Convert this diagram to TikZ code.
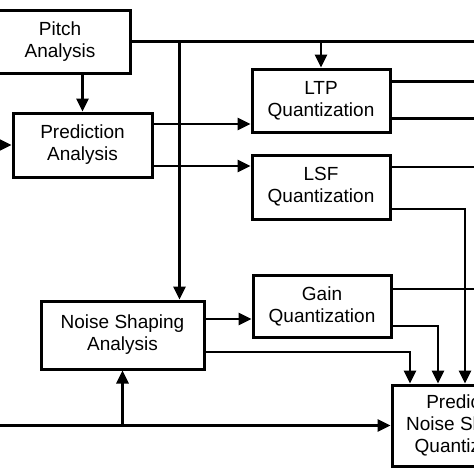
\documentclass[tikz,border=0pt]{standalone}
\usepackage{fontspec}
\setmainfont{Liberation Sans}
\usetikzlibrary{arrows.meta, positioning}

\begin{document}
\begin{tikzpicture}[
			x=1pt, y=-1pt,
			box/.style={rectangle, draw, line width=3pt, align=center, inner sep=0pt, minimum width=138pt, minimum height=63pt, font=\fontsize{19}{22}\selectfont},
			arrow/.style={-{Triangle[length=13pt, width=12pt]}, line width=2.6pt},
			wire/.style={line width=2.6pt}
			]
			\path[use as bounding box, clip] (0,0) rectangle (474,474);
			
			% Nodes
			\node (pitch) [box, minimum width=140pt] at (60,41.5) {Pitch\\Analysis};
			\node (pred) [box, minimum width=139pt, minimum height=64pt] at (82.5,145) {Prediction\\Analysis};
			\node (ltp) [box] at (321,100.5) {LTP\\Quantization};
			\node (lsf) [box, minimum height=64pt] at (321,187) {LSF\\Quantization};
			\node (nsa) [box, minimum width=163pt, minimum height=68pt] at (122.5,335) {Noise Shaping\\Analysis};
			\node (gain) [box, minimum height=62pt] at (322,306) {Gain\\Quantization};
			\node (pnsq) [box, minimum width=152pt, minimum height=81pt] at (468,425.5) {Predictive\\Noise Shaping\\Quantization};
			
			% Edges of the picture
			\coordinate (rim) at (485,0);
			\coordinate (rimw) at (-10,0);
			\coordinate (tap) at ([xshift=48pt]pitch.east);
			
			% Pitch analysis
			\draw[wire] (pitch.east) -- (pitch.east -| rim);
			\draw[arrow] (pred.north |- pitch.south) -- (pred.north);
			\draw[arrow] (ltp.north |- pitch.east) -- (ltp.north);
			\draw[arrow] (tap) -- (tap |- nsa.north);
			
			% Prediction analysis
			\draw[arrow] (pred.west -| rimw) -- (pred.west);
			\draw[arrow] ([yshift=21pt]pred.east) -- ([yshift=21pt]pred.east -| ltp.west);
			\draw[arrow] ([yshift=-21pt]pred.east) -- ([yshift=-21pt]pred.east -| lsf.west);
			
			% Quantizers
			\draw[wire] ([yshift=19pt]ltp.east) -- ([yshift=19pt]ltp.east -| rim);
			\draw[wire] ([yshift=-18pt]ltp.east) -- ([yshift=-18pt]ltp.east -| rim);
			\draw[wire] ([yshift=20pt]lsf.east) -- ([yshift=20pt]lsf.east -| rim);
			\draw[arrow] ([yshift=-22pt]lsf.east) -| ([xshift=-3pt]pnsq.north);
			\draw[wire] ([yshift=17pt]gain.east) -- ([yshift=17pt]gain.east -| rim);
			\draw[arrow] ([yshift=-20pt]gain.east) -| ([xshift=-30pt]pnsq.north);
			
			% Noise shaping analysis
			\draw[arrow] ([yshift=16pt]nsa.east) -- ([yshift=16pt]nsa.east -| gain.west);
			\draw[arrow] ([yshift=-17pt]nsa.east) -| ([xshift=-58pt]pnsq.north);
			\draw[arrow] (pnsq.west -| rimw) -- (pnsq.west);
			\draw[arrow] (nsa.south |- pnsq.west) -- (nsa.south);
			
		\end{tikzpicture}
\end{document}
